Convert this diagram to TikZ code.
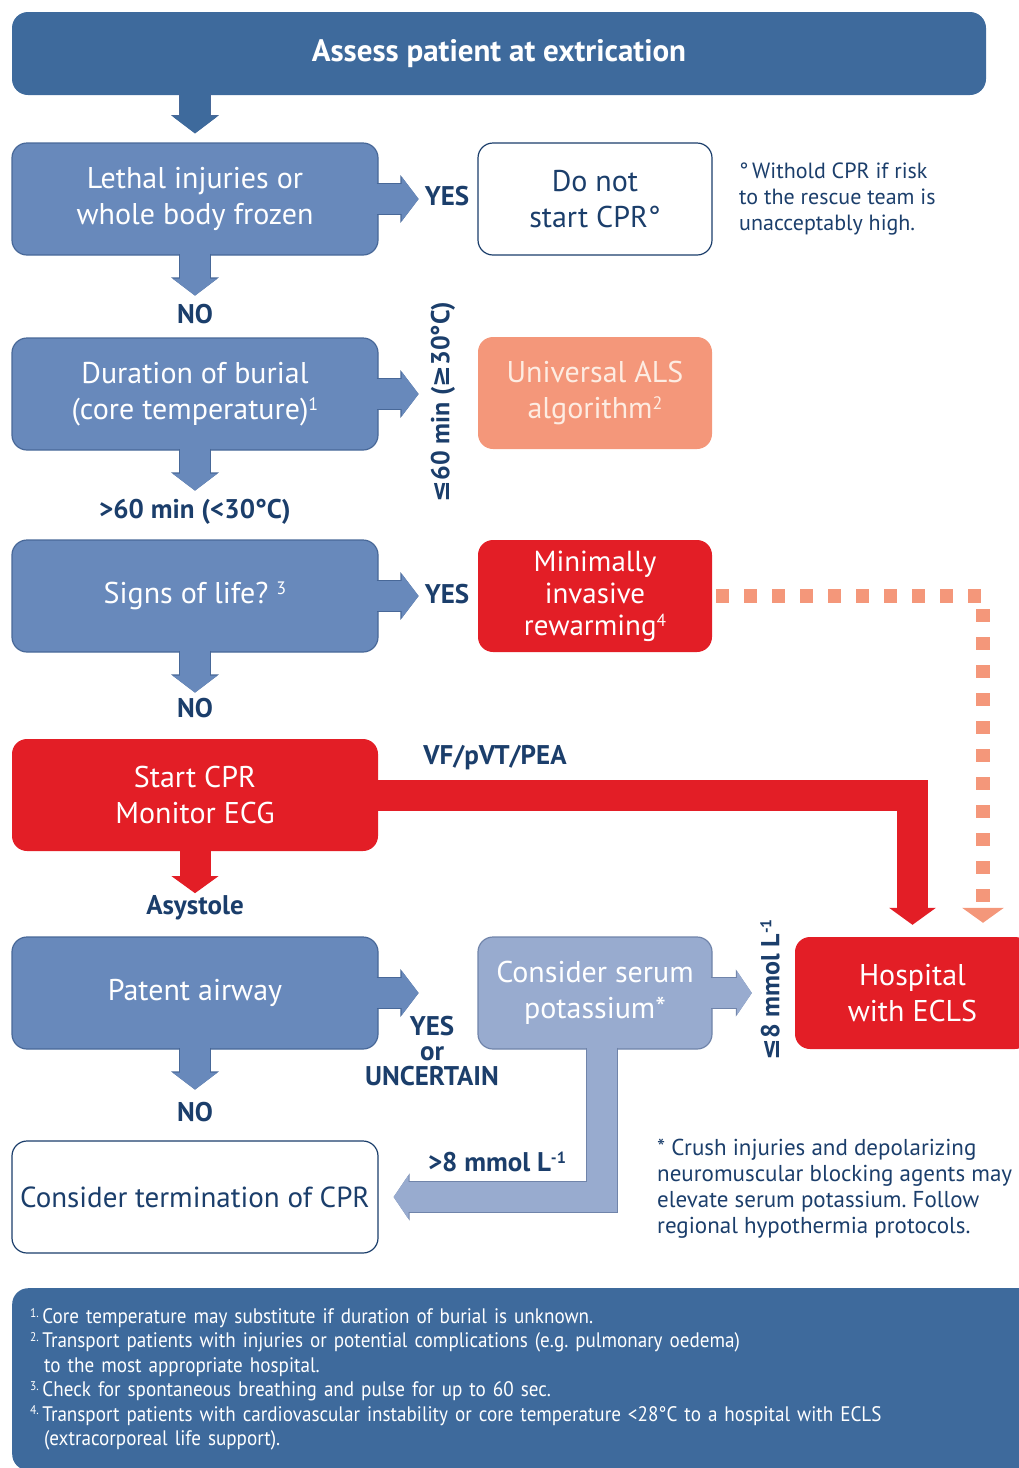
\documentclass[tikz,border=0pt]{standalone}
\usepackage{fontspec}
\setmainfont{PT Sans}
\newfontfamily\narrowfont[FakeStretch=0.91]{PT Sans}
\newfontfamily\symfont{DejaVu Sans}
\usetikzlibrary{arrows.meta,calc}
\frenchspacing

\definecolor{bannerblue}{RGB}{62,106,156}
\definecolor{boxblue}{RGB}{104,137,187}
\definecolor{boxedge}{RGB}{72,104,152}
\definecolor{paleblue}{RGB}{152,171,207}
\definecolor{paleedge}{RGB}{112,132,170}
\definecolor{navy}{RGB}{27,62,107}
\definecolor{ercred}{RGB}{227,30,38}
\definecolor{salmon}{RGB}{244,151,122}
\definecolor{salmontext}{RGB}{253,236,226}

\newcommand{\leqsign}{{\symfont\bfseries ≤}}
\newcommand{\geqsign}{{\symfont\bfseries ≥}}
\newcommand{\supnum}[1]{\raisebox{0.3em}{\fontsize{0.6em}{0.6em}\selectfont #1}}

\tikzset{
  box/.style={rounded corners=15pt, minimum width=366pt, minimum height=112pt,
    align=center, inner sep=4pt, font={\fontsize{30}{36}\selectfont}},
  bluebox/.style={box, fill=boxblue, draw=boxedge, line width=1.2pt, text=white},
  redbox/.style={box, fill=ercred, text=white},
  whitebox/.style={box, fill=white, draw=navy, line width=1.2pt, text=navy},
  smallbox/.style={minimum width=234pt},
  salmonbox/.style={box, smallbox, fill=salmon, text=salmontext},
  palebox/.style={box, smallbox, fill=paleblue, draw=paleedge, line width=1.2pt, text=white},
  lbl/.style={inner sep=0pt, text=navy, align=center,
    font={\bfseries\fontsize{27}{25}\selectfont}},
  notetext/.style={inner sep=0pt, text=navy, align=left},
  bluearrow/.style={draw=#1, line width=30pt,
    -{Triangle[width=0pt 1.47,length=0pt 0.57]},
    preaction={draw=boxedge, line width=32pt, -{Triangle[width=0pt 1.47,length=0pt 0.57]}}},
  bluearrow/.default=boxblue,
  palearrow/.style={draw=paleblue, line width=30pt,
    -{Triangle[width=0pt 1.45,length=0pt 0.5]},
    preaction={draw=paleedge, line width=32pt, -{Triangle[width=0pt 1.45,length=0pt 0.5]}}},
  redarrow/.style={draw=ercred, line width=31pt, -{Triangle[width=46pt,length=17pt]}},
  dasharrow/.style={draw=salmon, line width=14pt, dash pattern=on 13pt off 15pt,
    -{Triangle[width=41pt,length=15pt]}}
}

\begin{document}
\begin{tikzpicture}[x=1pt,y=1pt,yscale=-1]
  \useasboundingbox (0,0) rectangle (1019,1468);

  % banner and footer
  \node[fill=bannerblue, rounded corners=16pt, minimum width=974pt, minimum height=83pt,
    text=white, font={\bfseries\fontsize{31}{31}\selectfont}] (assess) at (499,53.5) {Assess patient at extrication};
  \node[fill=bannerblue, rounded corners=16pt, anchor=north west, minimum width=1028pt,
    minimum height=182pt, text width=992pt, inner xsep=18pt, align=left, text=white,
    font={\narrowfont\fontsize{21}{24.4}\selectfont}] (notes) at (12,1288)
    {\supnum{1.}\,Core temperature may substitute if duration of burial is unknown.\\
     \supnum{2.}\,Transport patients with injuries or potential complications (e.g. pulmonary oedema)\\
     \hspace*{14pt}to the most appropriate hospital.\\
     \supnum{3.}\,Check for spontaneous breathing and pulse for up to 60 sec.\\
     \supnum{4.}\,Transport patients with cardiovascular instability or core temperature <28°C to a hospital with ECLS\\
     \hspace*{14pt}(extracorporeal life support).};

  % left column
  \node[bluebox] (lethal) at (195,199) {Lethal injuries or\\whole body frozen};
  \node[bluebox] (burial) at (195,394) {Duration of burial\\(core temperature)\supnum{1}};
  \node[bluebox] (signs) at (195,596) {Signs of life? \supnum{3}};
  \node[redbox] (cpr) at (195,795) {Start CPR\\Monitor ECG};
  \node[bluebox] (airway) at (195,993) {Patent airway};
  \node[whitebox, font={\fontsize{29}{36}\selectfont}] (stop) at (195,1197) {Consider termination of CPR};

  % right column
  \node[whitebox, smallbox] (nocpr) at (595,199) {Do not\\start CPR°};
  \node[salmonbox] (als) at (595,393) {Universal ALS\\algorithm\supnum{2}};
  \node[redbox, smallbox, font={\fontsize{29}{32}\selectfont}] (rewarm) at (595,596) {Minimally\\invasive\\rewarming\supnum{4}};
  \node[palebox] (potassium) at (595,993) {Consider serum\\potassium*};
  \node[redbox, minimum width=235pt] (hosp) at (912.5,993) {Hospital\\with ECLS};

  % labels
  \node[lbl] (yes1) at (447,196) {YES};
  \node[lbl] (no1) at (195,314) {NO};
  \node[lbl] (long) at (195,512) {>60 min (<30°C)};
  \node[lbl, rotate=90, font={\bfseries\fontsize{26}{25}\selectfont}] (short) at (443,402) {\leqsign60 min (\geqsign30°C)};
  \node[lbl] (yes2) at (447,594) {YES};
  \node[lbl] (no2) at (195,708) {NO};
  \node[lbl] (shock) at (495,758) {VF/pVT/PEA};
  \node[lbl] (asys) at (195,908) {Asystole};
  \node[lbl] (yes3) at (432,1051) {YES\\or\\UNCERTAIN};
  \node[lbl] (no3) at (195,1112) {NO};
  \node[lbl] (highk) at (497,1162) {>8 mmol L\supnum{-1}};
  \node[lbl, rotate=90, font={\bfseries\fontsize{26}{25}\selectfont}] (lowk) at (770,990) {\leqsign8 mmol L\supnum{-1}};

  % notes
  \node[notetext, anchor=west, font={\fontsize{22}{26}\selectfont}] (withold) at (739,199)
    {°\,Withold CPR if risk\\to the rescue team is\\unacceptably high.};
  \node[notetext, anchor=west, font={\fontsize{23}{26}\selectfont}] (crush) at (657,1189)
    {* Crush injuries and depolarizing\\neuromuscular blocking agents may\\elevate serum potassium. Follow\\regional hypothermia protocols.};

  % arrows
  \draw[bluearrow=bannerblue] ($(assess.south -| lethal.north)+(0,-2)$) -- ($(lethal.north)+(0,-9)$);
  \draw[bluearrow] ($(lethal.east)+(-2,0)$) -- ($(lethal.east)+(40,0)$);
  \draw[bluearrow] ($(lethal.south)+(0,-2)$) -- ($(lethal.south)+(0,40)$);
  \draw[bluearrow] ($(burial.east)+(-2,0)$) -- ($(burial.east)+(40,0)$);
  \draw[bluearrow] ($(burial.south)+(0,-2)$) -- ($(burial.south)+(0,40)$);
  \draw[bluearrow] ($(signs.east)+(-2,0)$) -- ($(signs.east)+(40,0)$);
  \draw[bluearrow] ($(signs.south)+(0,-2)$) -- ($(signs.south)+(0,40)$);
  \draw[redarrow] ($(cpr.south)+(0,-2)$) -- ($(cpr.south)+(0,42)$);
  \draw[redarrow] ($(cpr.east)+(-2,0)$) -| ($(hosp.north)+(0,-12)$);
  \draw[dasharrow] ($(rewarm.east)+(4,0)$) -| ($(hosp.north)+(70.5,-14)$);
  \draw[bluearrow] ($(airway.east)+(-2,0)$) -- ($(airway.east)+(40,0)$);
  \draw[bluearrow] ($(airway.south)+(0,-2)$) -- ($(airway.south)+(0,40)$);
  \draw[palearrow] ($(potassium.east)+(-2,0)$) -- ($(hosp.west)+(-43,0)$);
  \draw[palearrow] ($(potassium.south)+(7,-2)$) |- ($(stop.east)+(15,0)$);
\end{tikzpicture}
\end{document}
